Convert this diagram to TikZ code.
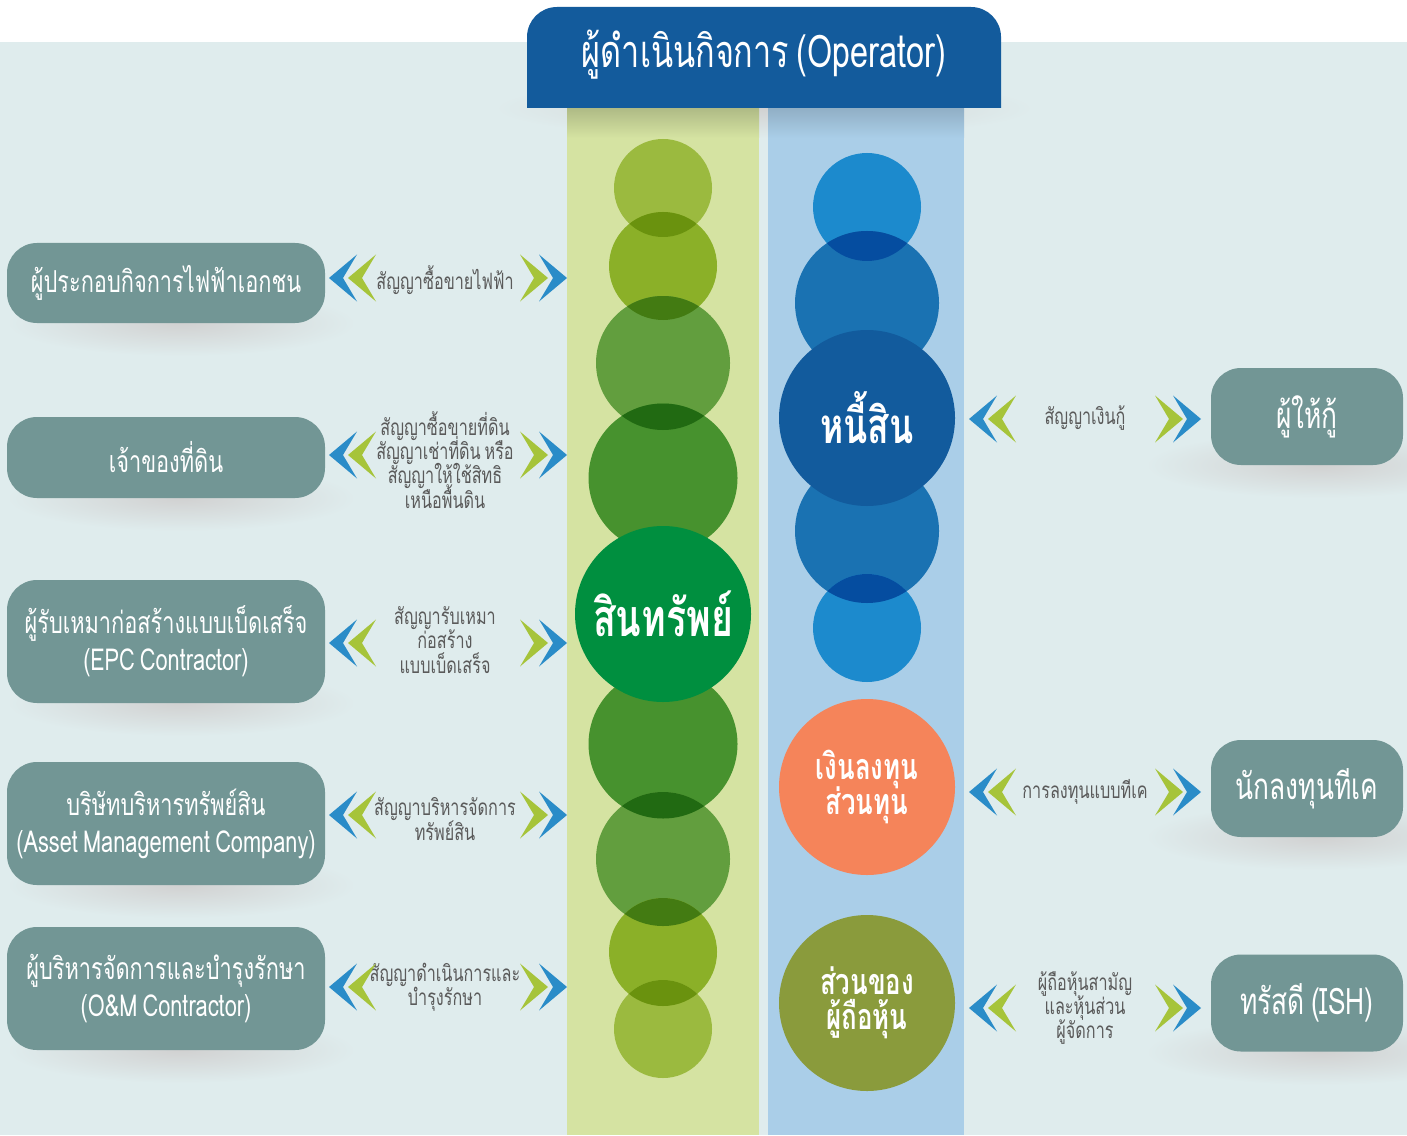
\documentclass[tikz,border=0pt]{standalone}
\usepackage{fontspec}
\setmainfont{Loma}[Script=Thai, FakeStretch=0.72, WordSpace=0.7]
\usetikzlibrary{positioning, calc}
\definecolor{mbg}{HTML}{DFECED}
\definecolor{mhead}{HTML}{135B9C}
\definecolor{mteal}{HTML}{729695}
\definecolor{mtext}{HTML}{5A5A5A}
\definecolor{mchevb}{HTML}{2A8CC8}
\definecolor{mchevg}{HTML}{A6C43A}
\definecolor{mlime}{HTML}{D5E3A2}
\definecolor{msky}{HTML}{AACEE8}
\definecolor{gone}{HTML}{9BBA3F}
\definecolor{gtwo}{HTML}{8BB028}
\definecolor{gthree}{HTML}{629E3E}
\definecolor{gfour}{HTML}{47922E}
\definecolor{gcore}{HTML}{008F3F}
\definecolor{gdarkA}{HTML}{6A920E}
\definecolor{gdarkB}{HTML}{437B12}
\definecolor{gdarkC}{HTML}{216A12}
\definecolor{bone}{HTML}{1C8ACD}
\definecolor{btwo}{HTML}{1A72B2}
\definecolor{bcore}{HTML}{125B9D}
\definecolor{bdark}{HTML}{054DA0}
\definecolor{morange}{HTML}{F5845A}
\definecolor{molive}{HTML}{8A9B3C}
\newcommand{\tight}{\lineskiplimit=-20pt}
\tikzstyle{party} = [rectangle, rounded corners=0.3cm, minimum width=3.18cm, inner xsep=0.05cm, text=white, align=center, fill=mteal, font=\fontsize{8.6}{10.5}\selectfont\tight]
\tikzstyle{lender} = [party, minimum width=1.92cm, minimum height=0.97cm, font=\fontsize{10.4}{13}\selectfont]
\tikzstyle{deal} = [text=mtext, align=center, inner sep=0pt, font=\fontsize{6.4}{6.9}\selectfont\tight]
\tikzstyle{bubble} = [circle, inner sep=0pt]
\tikzstyle{core} = [bubble, minimum size=1.76cm, text=white, align=center, font=\bfseries\fontsize{10.2}{10}\selectfont\tight]
\tikzstyle{boxshade} = [inner color=black!18, outer color=mbg]
\tikzset{
  chevl/.pic={\fill (0,0) -- (0.28,0.235) -- (0.14,0) -- (0.28,-0.235) -- cycle;},
  chevr/.pic={\fill (0,0) -- (-0.28,0.235) -- (-0.14,0) -- (-0.28,-0.235) -- cycle;}
}
\begin{document}
\begin{tikzpicture}
  \useasboundingbox (0,0) rectangle (14.07,-11.35);
  \clip (0,0) rectangle (14.07,-11.35);
  % background
  \fill[white] (0,0) rectangle (14.07,-11.35);
  \fill[mbg] (0,-0.42) rectangle (14.07,-11.35);
  \shade[boxshade] (7.64,-1.08) ellipse (2.7 and 0.3);
  \fill[mlime] (5.67,-1.08) rectangle (7.59,-11.35);
  \fill[msky] (7.68,-1.08) rectangle (9.64,-11.35);
  \shade[top color=mlime!82!black, bottom color=mlime] (5.67,-1.08) rectangle (7.59,-1.38);
  \shade[top color=msky!85!black, bottom color=msky] (7.68,-1.08) rectangle (9.64,-1.38);

  % header
  \fill[mhead] (5.27,-1.08) -- (5.27,-0.37) arc[start angle=180, end angle=90, radius=0.3]
    -- (9.71,-0.07) arc[start angle=90, end angle=0, radius=0.3] -- (10.01,-1.08) -- cycle;
  \node (op) at (7.64,-0.55) [text=white, font=\fontsize{12.8}{15}\selectfont] {ผู้ดำเนินกิจการ (Operator)};

  % asset column
  \node (a1) [bubble, fill=gone, minimum size=0.98cm] at (6.63,-1.88) {};
  \node (a2) [bubble, fill=gtwo, minimum size=1.08cm] at (6.63,-2.66) {};
  \begin{scope} \clip (a1.center) circle (0.49); \fill[gdarkA] (a2.center) circle (0.54); \end{scope}
  \node (a3) [bubble, fill=gthree, minimum size=1.34cm] at (6.63,-3.63) {};
  \begin{scope} \clip (a2.center) circle (0.54); \fill[gdarkB] (a3.center) circle (0.67); \end{scope}
  \node (a4) [bubble, fill=gfour, minimum size=1.49cm] at (6.63,-4.78) {};
  \begin{scope} \clip (a3.center) circle (0.67); \fill[gdarkC] (a4.center) circle (0.745); \end{scope}
  \node (a6) [bubble, fill=gfour, minimum size=1.49cm] at (6.63,-7.44) {};
  \node (a7) [bubble, fill=gthree, minimum size=1.34cm] at (6.63,-8.59) {};
  \begin{scope} \clip (a6.center) circle (0.745); \fill[gdarkC] (a7.center) circle (0.67); \end{scope}
  \node (a8) [bubble, fill=gtwo, minimum size=1.08cm] at (6.63,-9.52) {};
  \begin{scope} \clip (a7.center) circle (0.67); \fill[gdarkB] (a8.center) circle (0.54); \end{scope}
  \node (a9) [bubble, fill=gone, minimum size=0.98cm] at (6.63,-10.29) {};
  \begin{scope} \clip (a8.center) circle (0.54); \fill[gdarkA] (a9.center) circle (0.49); \end{scope}
  \node (asset) [core, fill=gcore, font=\bfseries\fontsize{14.8}{17}\selectfont] at (6.63,-6.14) {สินทรัพย์};

  % debt and equity column
  \node (b1) [bubble, fill=bone, minimum size=1.08cm] at (8.67,-2.07) {};
  \node (b2) [bubble, fill=btwo, minimum size=1.44cm] at (8.67,-3.03) {};
  \begin{scope} \clip (b1.center) circle (0.54); \fill[bdark] (b2.center) circle (0.72); \end{scope}
  \node (b4) [bubble, fill=btwo, minimum size=1.44cm] at (8.67,-5.31) {};
  \node (b5) [bubble, fill=bone, minimum size=1.08cm] at (8.67,-6.28) {};
  \begin{scope} \clip (b4.center) circle (0.72); \fill[bdark] (b5.center) circle (0.54); \end{scope}
  \node (debt) [core, fill=bcore, font=\bfseries\fontsize{14}{17}\selectfont] at (8.67,-4.18) {หนี้สิน};
  \node (stake) [core, fill=morange] at (8.67,-7.87) {เงินลงทุน\\ส่วนทุน};
  \node (equity) [core, fill=molive] at (8.67,-10.03) {ส่วนของ\\ผู้ถือหุ้น};

  % shadows under the boxes
  \foreach \x/\y in {1.81/3.23, 1.81/4.98, 1.81/7.03, 1.81/8.85, 1.81/10.50,
                     13.2/4.65, 13.2/8.37, 13.2/10.52}
    \shade[boxshade] (\x,-\y) ellipse (1.75 and 0.33);

  % parties on the left
  \node (seller) [party, minimum height=0.80cm] at (1.66,-2.83) {ผู้ประกอบกิจการไฟฟ้าเอกชน};
  \node (owner) [party, minimum height=0.81cm] at (1.66,-4.575) {เจ้าของที่ดิน};
  \node (epc) [party, minimum height=1.23cm] at (1.66,-6.415) {ผู้รับเหมาก่อสร้างแบบเบ็ดเสร็จ\\(EPC Contractor)};
  \node (amc) [party, minimum height=1.23cm] at (1.66,-8.235) {บริษัทบริหารทรัพย์สิน\\(Asset Management Company)};
  \node (om) [party, minimum height=1.23cm] at (1.66,-9.885) {ผู้บริหารจัดการและบำรุงรักษา\\(O\&M Contractor)};

  % parties on the right
  \node (lender1) [lender] at (13.07,-4.165) {ผู้ให้กู้};
  \node (tk) [lender] at (13.07,-7.885) {นักลงทุนทีเค};
  \node (ish) [lender] at (13.07,-10.03) {ทรัสดี (ISH)};

  % contracts
  \node (ppa) [deal] at (4.45,-2.80) {สัญญาซื้อขายไฟฟ้า};
  \node (land) [deal] at (4.45,-4.60) {สัญญาซื้อขายที่ดิน\\สัญญาเช่าที่ดิน หรือ\\สัญญาให้ใช้สิทธิ\\เหนือพื้นดิน};
  \node (build) [deal] at (4.45,-6.40) {สัญญารับเหมา\\ก่อสร้าง\\แบบเบ็ดเสร็จ};
  \node (manage) [deal] at (4.45,-8.19) {สัญญาบริหารจัดการ\\ทรัพย์สิน};
  \node (keep) [deal] at (4.45,-9.87) {สัญญาดำเนินการและ\\บำรุงรักษา};
  \node (loan) [deal] at (10.85,-4.18) {สัญญาเงินกู้};
  \node (tkdeal) [deal] at (10.85,-7.92) {การลงทุนแบบทีเค};
  \node (share) [deal] at (10.85,-10.08) {ผู้ถือหุ้นสามัญ\\และหุ้นส่วน\\ผู้จัดการ};

  % double chevrons
  \foreach \y in {2.78, 4.55, 6.43, 8.15, 9.87} {
    \pic[mchevb] at (3.29,-\y) {chevl};
    \pic[mchevg] at (3.48,-\y) {chevl};
    \pic[mchevg] at (5.48,-\y) {chevr};
    \pic[mchevb] at (5.67,-\y) {chevr};
  }
  \foreach \y in {4.19, 7.92, 10.08} {
    \pic[mchevb] at (9.69,-\y) {chevl};
    \pic[mchevg] at (9.88,-\y) {chevl};
    \pic[mchevg] at (11.83,-\y) {chevr};
    \pic[mchevb] at (12.01,-\y) {chevr};
  }
\end{tikzpicture}
\end{document}
